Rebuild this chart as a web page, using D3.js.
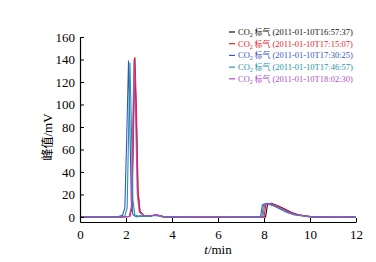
<!DOCTYPE html>
<html lang="zh">
<head>
<meta charset="utf-8"/>
<title>CO2 标气 峰值</title>
<script src="https://d3js.org/d3.v7.min.js"></script>
<style>
  body { margin: 0; background: #fff; }
  text { font-family: "Liberation Serif", "Noto Sans CJK SC", serif; }
</style>
</head>
<body>
<div id="chart"></div>
<script>
// data: time (min) and signal (mV) per run
var runLabels = ["(2011-01-10T16:57:37)", "(2011-01-10T17:15:07)", "(2011-01-10T17:30:25)",
                 "(2011-01-10T17:46:57)", "(2011-01-10T18:02:30)"];

var tBlack  = [0, 1.8, 2.15, 2.25, 2.31, 2.37, 2.44, 2.51, 2.6, 2.8, 3.1, 3.3, 3.5, 3.7, 5.5, 6.2, 8.07, 8.15, 8.32, 8.6, 8.9, 9.2, 9.5, 9.8, 10.2, 12];
var vBlack  = [0, 0, 0.5, 8, 75, 141, 95, 25, 5, 1, 1, 1.8, 1, 0, 0.3, 0, 0, 11, 12, 10, 7, 4, 2, 1, 0, 0];

var tRed    = [0, 1.8, 2.17, 2.27, 2.33, 2.39, 2.46, 2.53, 2.62, 2.8, 3.1, 3.3, 3.5, 3.7, 4.8, 7.0, 8.0, 8.08, 8.25, 8.55, 8.85, 9.15, 9.45, 9.75, 10.1, 12];
var vRed    = [0, 0, 0.5, 10, 80, 142, 90, 22, 4, 1, 1, 1.6, 1, 0, 0.3, 0, 0, 11, 12, 10, 7, 4, 2, 1, 0, 0];

var tBlue   = [0, 1.6, 1.85, 1.95, 2.03, 2.11, 2.17, 2.23, 2.3, 2.45, 2.6, 3.0, 3.2, 3.4, 3.6, 6.0, 7.85, 7.93, 8.1, 8.4, 8.7, 9.0, 9.3, 9.6, 10.0, 12];
var vBlue   = [0, 0, 1.5, 8, 70, 139, 80, 15, 2, 0, 1, 0.5, 1.5, 1, 0, 0.3, 0, 11, 12, 10, 7, 4, 2, 1, 0, 0];

var tTeal   = [0, 1.7, 1.95, 2.05, 2.11, 2.17, 2.23, 2.3, 2.38, 2.55, 3.0, 3.2, 3.4, 3.6, 6.8, 7.9, 7.98, 8.15, 8.45, 8.75, 9.05, 9.35, 9.65, 10.0, 12];
var vTeal   = [0, 0, 0.8, 8, 72, 137, 85, 15, 2, 0.5, 0.5, 1.4, 1, 0, 0.3, 0, 11, 12, 10, 7, 4, 2, 1, 0, 0];

var tPurple = [0, 1.8, 2.14, 2.23, 2.29, 2.35, 2.42, 2.49, 2.58, 2.8, 3.1, 3.3, 3.5, 3.7, 5.2, 7.0, 7.95, 8.03, 8.2, 8.5, 8.8, 9.1, 9.4, 9.7, 10.1, 11.2, 12];
var vPurple = [0, 0, 0.5, 9, 78, 140, 88, 20, 4, 1, 1, 1.8, 1, 0, 0.3, 0, 0, 11, 12, 10, 7, 4, 2, 1, 0, 0.4, 0];

var xTicks = [0, 2, 4, 6, 8, 10, 12];
var yTicks = [0, 20, 40, 60, 80, 100, 120, 140, 160];

var runs = [
  { t: tBlack,  v: vBlack,  color: "#111111" },
  { t: tRed,    v: vRed,    color: "#e8242c" },
  { t: tBlue,   v: vBlue,   color: "#3557c0" },
  { t: tTeal,   v: vTeal,   color: "#2593a8" },
  { t: tPurple, v: vPurple, color: "#b04ec4" }
];

var w = 376, h = 262;
var x = d3.scaleLinear().domain([0, 12]).range([80, 356]);
var y = d3.scaleLinear().domain([-4.5, 160]).range([222, 37]);

var svg = d3.select("#chart").append("svg")
  .attr("width", w).attr("height", h);
svg.append("rect").attr("width", w).attr("height", h).attr("fill", "#fff");

var line = d3.line()
  .x(function(d) { return x(d[0]); })
  .y(function(d) { return y(d[1]); });

runs.forEach(function(r) {
  var pts = r.t.map(function(t, i) { return [t, r.v[i]]; });
  svg.append("path")
    .attr("d", line(pts))
    .attr("fill", "none")
    .attr("stroke", r.color)
    .attr("stroke-width", 1.1);
});

// axes, ticks pointing inward
var xAxis = svg.append("g")
  .attr("transform", "translate(0,222)")
  .call(d3.axisBottom(x).tickValues(xTicks).tickSizeInner(-4).tickSizeOuter(0).tickPadding(8));
var yAxis = svg.append("g")
  .attr("transform", "translate(80,0)")
  .call(d3.axisLeft(y).tickValues(yTicks).tickSizeInner(-4).tickSizeOuter(0).tickPadding(5));

[xAxis, yAxis].forEach(function(a) {
  a.select(".domain").attr("stroke", "#000").attr("stroke-width", 1.2);
  a.selectAll(".tick line").attr("stroke", "#000");
  a.selectAll(".tick text")
    .attr("fill", "#000")
    .style("font-size", "13px")
    .style("font-family", "'Liberation Serif', serif");
});

// axis titles
var xt = svg.append("text")
  .attr("x", 218).attr("y", 254)
  .attr("text-anchor", "middle")
  .style("font-size", "13px");
xt.append("tspan").style("font-style", "italic").text("t");
xt.append("tspan").text("/min");

var yt = svg.append("text")
  .attr("transform", "translate(52,137) rotate(-90)")
  .attr("text-anchor", "middle")
  .style("font-size", "13px");
yt.append("tspan").style("font-family", "'Noto Sans CJK SC', sans-serif").style("font-size", "12px").text("峰值");
yt.append("tspan").text("/mV");

// legend
var leg = svg.append("g");
runs.forEach(function(r, i) {
  var ly = 32 + i * 11.7;
  leg.append("line")
    .attr("x1", 229).attr("x2", 235)
    .attr("y1", ly).attr("y2", ly)
    .attr("stroke", r.color).attr("stroke-width", 1.2);
  var tx = leg.append("text")
    .attr("x", 238).attr("y", ly + 3)
    .attr("fill", r.color)
    .style("font-size", "8.5px");
  tx.append("tspan").text("CO");
  tx.append("tspan").attr("dy", 2).style("font-size", "6px").text("2");
  tx.append("tspan").attr("dy", -2).style("font-family", "'Noto Sans CJK SC', sans-serif").style("font-size", "8px").text(" 标气 ");
  tx.append("tspan").text(runLabels[i]);
});
</script>
</body>
</html>
